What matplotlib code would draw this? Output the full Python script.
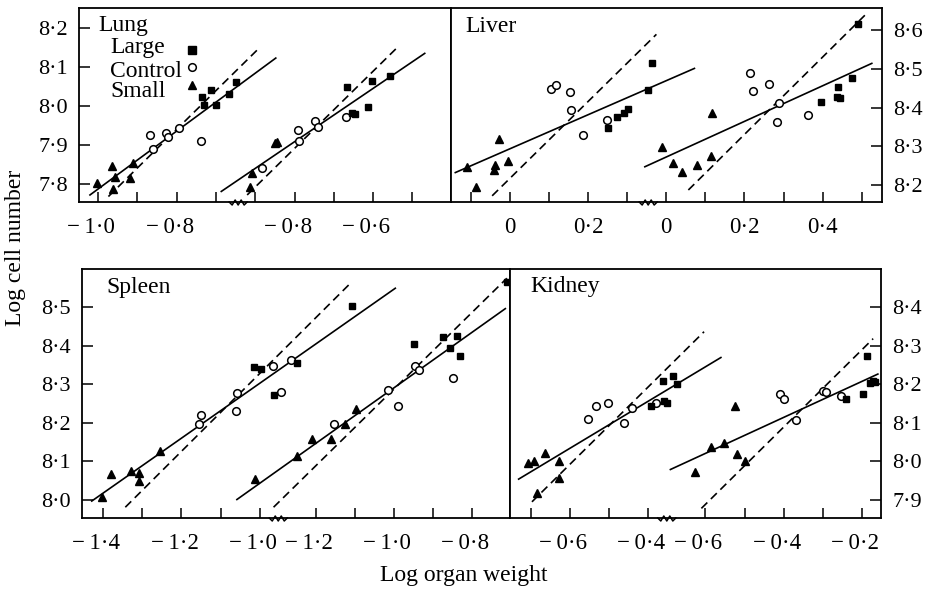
import matplotlib
matplotlib.use("Agg")
import matplotlib.pyplot as plt
from matplotlib.lines import Line2D
from matplotlib.transforms import ScaledTranslation

plt.rcParams['font.family'] = ['Liberation Serif', 'DejaVu Serif']

# ---- data (log organ weight, log cell number) ----
# each organ has two groups of animals, plotted on two offset x scales

# Lung, first group
lung1_small_x = [-1.004, -0.966, -0.957, -0.963, -0.911, -0.918]
lung1_small_y = [7.802, 7.845, 7.819, 7.787, 7.853, 7.816]
lung1_control_x = [-0.868, -0.860, -0.828, -0.821, -0.794, -0.738]
lung1_control_y = [7.925, 7.889, 7.930, 7.921, 7.943, 7.911]
lung1_large_x = [-0.735, -0.730, -0.713, -0.700, -0.666, -0.649]
lung1_large_y = [8.022, 8.001, 8.041, 8.001, 8.030, 8.062]
lung1_solid = [[-1.021, -0.547], [7.772, 8.122]]
lung1_dash = [[-0.974, -0.592], [7.768, 8.145]]
# Lung, second group
lung2_small_x = [-0.915, -0.909, -0.851, -0.846]
lung2_small_y = [7.792, 7.827, 7.904, 7.908]
lung2_control_x = [-0.883, -0.791, -0.789, -0.747, -0.741, -0.670]
lung2_control_y = [7.840, 7.938, 7.910, 7.960, 7.947, 7.972]
lung2_large_x = [-0.666, -0.653, -0.645, -0.613, -0.602, -0.556]
lung2_large_y = [8.047, 7.981, 7.978, 7.998, 8.064, 8.076]
lung2_solid = [[-0.987, -0.468], [7.781, 8.134]]
lung2_dash = [[-0.921, -0.533], [7.772, 8.154]]

# Liver
liver1_small_x = [-0.109, -0.085, -0.039, -0.041, -0.028, -0.005]
liver1_small_y = [8.246, 8.194, 8.252, 8.239, 8.318, 8.262]
liver1_control_x = [0.106, 0.117, 0.153, 0.156, 0.187, 0.247]
liver1_control_y = [8.449, 8.458, 8.441, 8.394, 8.329, 8.368]
liver1_large_x = [0.251, 0.274, 0.291, 0.301, 0.352, 0.364]
liver1_large_y = [8.348, 8.376, 8.385, 8.395, 8.445, 8.514]
liver1_solid = [[-0.139, 0.471], [8.232, 8.501]]
liver1_dash = [[-0.045, 0.374], [8.172, 8.589]]
liver2_small_x = [-0.009, 0.017, 0.042, 0.080, 0.114, 0.118]
liver2_small_y = [8.297, 8.258, 8.234, 8.252, 8.275, 8.385]
liver2_control_x = [0.213, 0.223, 0.263, 0.284, 0.287, 0.363]
liver2_control_y = [8.488, 8.443, 8.462, 8.363, 8.412, 8.381]
liver2_large_x = [0.396, 0.438, 0.435, 0.444, 0.475, 0.491]
liver2_large_y = [8.415, 8.452, 8.428, 8.424, 8.475, 8.615]
liver2_solid = [[-0.054, 0.525], [8.247, 8.514]]
liver2_dash = [[0.057, 0.508], [8.187, 8.639]]

# Spleen
spleen1_small_x = [-1.403, -1.380, -1.330, -1.309, -1.309, -1.256]
spleen1_small_y = [8.007, 8.067, 8.076, 8.071, 8.050, 8.128]
spleen1_control_x = [-1.154, -1.149, -1.058, -1.060, -0.966, -0.945, -0.920]
spleen1_control_y = [8.196, 8.220, 8.277, 8.232, 8.348, 8.281, 8.363]
spleen1_large_x = [-1.015, -0.997, -0.963, -0.904, -0.762]
spleen1_large_y = [8.346, 8.340, 8.273, 8.356, 8.504]
spleen1_solid = [[-1.430, -0.652], [7.997, 8.550]]
spleen1_dash = [[-1.344, -0.767], [7.981, 8.563]]
spleen2_small_x = [-1.356, -1.250, -1.210, -1.163, -1.125, -1.097]
spleen2_small_y = [8.054, 8.114, 8.157, 8.158, 8.196, 8.236]
spleen2_control_x = [-1.153, -1.015, -0.990, -0.947, -0.937, -0.850]
spleen2_control_y = [8.196, 8.285, 8.245, 8.348, 8.337, 8.316]
spleen2_large_x = [-0.950, -0.875, -0.856, -0.838, -0.830, -0.711]
spleen2_large_y = [8.406, 8.424, 8.394, 8.426, 8.374, 8.566]
spleen2_solid = [[-1.403, -0.715], [8.001, 8.497]]
spleen2_dash = [[-1.309, -0.711], [7.981, 8.576]]

# Kidney
kidney1_small_x = [-0.706, -0.693, -0.663, -0.628, -0.629, -0.683]
kidney1_small_y = [7.997, 8.002, 8.023, 8.002, 7.958, 7.919]
kidney1_control_x = [-0.555, -0.534, -0.502, -0.461, -0.442, -0.380]
kidney1_control_y = [8.109, 8.144, 8.151, 8.100, 8.140, 8.151]
kidney1_large_x = [-0.394, -0.363, -0.359, -0.353, -0.336, -0.326]
kidney1_large_y = [8.144, 8.210, 8.158, 8.152, 8.222, 8.200]
kidney1_solid = [[-0.731, -0.215], [7.954, 8.270]]
kidney1_dash = [[-0.697, -0.258], [7.895, 8.337]]
kidney2_small_x = [-0.627, -0.585, -0.553, -0.525, -0.518, -0.498]
kidney2_small_y = [7.973, 8.038, 8.047, 8.144, 8.019, 8.001]
kidney2_control_x = [-0.409, -0.400, -0.368, -0.300, -0.291, -0.253]
kidney2_control_y = [8.175, 8.162, 8.107, 8.184, 8.181, 8.170]
kidney2_large_x = [-0.240, -0.199, -0.187, -0.181, -0.172, -0.168]
kidney2_large_y = [8.162, 8.175, 8.274, 8.203, 8.209, 8.207]
kidney2_solid = [[-0.689, -0.160], [7.979, 8.227]]
kidney2_dash = [[-0.610, -0.172], [7.878, 8.319]]

# tick values for each x scale and each y axis
lung1_ticks = [-1.0, -0.9, -0.8, -0.7]
lung2_ticks = [-0.9, -0.8, -0.7, -0.6, -0.5]
liver1_ticks = [-0.1, 0.0, 0.1, 0.2, 0.3]
liver2_ticks = [0.0, 0.1, 0.2, 0.3, 0.4, 0.5]
spleen1_ticks = [-1.4, -1.3, -1.2, -1.1, -1.0]
spleen2_ticks = [-1.2, -1.1, -1.0, -0.9, -0.8]
kidney1_ticks = [-0.7, -0.6, -0.5, -0.4]
kidney2_ticks = [-0.6, -0.5, -0.4, -0.3, -0.2]
lung_yticks = [7.8, 7.9, 8.0, 8.1, 8.2]
liver_yticks = [8.2, 8.3, 8.4, 8.5, 8.6]
spleen_yticks = [8.0, 8.1, 8.2, 8.3, 8.4, 8.5]
kidney_yticks = [7.9, 8.0, 8.1, 8.2, 8.3, 8.4]

W, H = 926, 590
fig = plt.figure(figsize=(W / 100, H / 100), dpi=100)
# negative labels: digits sit on the tick, the minus hangs to the left
shift_left = ScaledTranslation(-0.07, 0, fig.dpi_scale_trans)


def fmt(v):
    # label every 0.2 only
    if round(v * 10) % 2 != 0:
        return ''
    if abs(v) < 1e-9:
        return '0'
    s = f"{abs(v):.1f}".replace('.', '\u00b7')
    if v < 0:
        return '\u2212\u2009' + s
    return s


def fmt_y(v):
    return f"{v:.1f}".replace('.', '\u00b7')


def make_panel(name, px, py, lim1, lim2, ylim, ticks1, ticks2, yticks, yside, brk):
    left, right = px
    top, bottom = py
    rect = [left / W, 1 - bottom / H, (right - left) / W, (bottom - top) / H]
    ax1 = fig.add_axes(rect, label=name + '1')
    ax2 = fig.add_axes(rect, label=name + '2')
    ax2.patch.set_visible(False)
    for s in ax2.spines.values():
        s.set_visible(False)
    ax2.yaxis.set_visible(False)
    ax1.set_xlim(lim1)
    ax2.set_xlim(lim2)
    ax1.set_ylim(ylim)
    ax2.set_ylim(ylim)
    for ax, t in ((ax1, ticks1), (ax2, ticks2)):
        ax.set_xticks(t)
        ax.set_xticklabels([fmt(v) for v in t])
        ax.tick_params(axis='x', direction='in', length=7, width=1.1, pad=11, labelsize=16.5)
        for v, tk in zip(t, ax.xaxis.get_major_ticks()):
            if v < 0:
                tk.label1.set_transform(tk.label1.get_transform() + shift_left)
    ax1.set_yticks(yticks)
    ax1.set_yticklabels([fmt_y(v) for v in yticks])
    ax1.tick_params(axis='y', direction='in', length=8, width=1.1, pad=8, labelsize=16)
    if yside == 'right':
        ax1.tick_params(axis='y', left=False, labelleft=False, right=True, labelright=True)
    for s in ax1.spines.values():
        s.set_linewidth(1.3)
    # broken-axis mark
    bx, by = ax1.transData.transform((brk, ylim[0]))
    ax1.add_artist(Line2D([(bx - 9) / W, (bx + 9) / W], [by / H, by / H], color='white',
                          lw=3, transform=fig.transFigure, clip_on=False))
    zx = [-9, -6, -3, 0, 3, 6, 9]
    zy = [0, -3, 2, -3, 2, -3, 0]
    ax1.add_artist(Line2D([(bx + d) / W for d in zx], [(by + d) / H for d in zy], color='black',
                          lw=1.1, transform=fig.transFigure, clip_on=False))
    return ax1, ax2


def draw_group(ax, sx, sy, cx, cy, lx, ly, solid, dash):
    ax.plot(solid[0], solid[1], color='black', lw=1.2, clip_on=False)
    ax.plot(dash[0], dash[1], color='black', lw=1.2, dashes=(5, 3), clip_on=False)
    ax.plot(sx, sy, '^', color='black', ms=5.5, clip_on=False)
    ax.plot(cx, cy, 'o', mfc='white', mec='black', mew=1.1, ms=5.5, clip_on=False)
    ax.plot(lx, ly, 's', color='black', ms=5, clip_on=False)


a1, a2 = make_panel('lung', (79, 451), (8, 202), (-1.049, -0.100), (-1.350, -0.401), (7.754, 8.250),
                    lung1_ticks, lung2_ticks, lung_yticks, 'left', -0.643)
draw_group(a1, lung1_small_x, lung1_small_y, lung1_control_x, lung1_control_y,
           lung1_large_x, lung1_large_y, lung1_solid, lung1_dash)
draw_group(a2, lung2_small_x, lung2_small_y, lung2_control_x, lung2_control_y,
           lung2_large_x, lung2_large_y, lung2_solid, lung2_dash)
a1.text(0.051, 0.912, 'Lung', transform=a1.transAxes, fontsize=17, va='center')
for lab, yt, ym, mk in (('Large', 0.794, 0.784, 's'), ('Control', 0.675, 0.696, 'o'),
                        ('Small', 0.572, 0.603, '^')):
    a1.text(0.083, yt, lab, transform=a1.transAxes, fontsize=17, va='center')
    if mk == 'o':
        a1.plot([0.305], [ym], mk, mfc='white', mec='black', mew=1.1, ms=5.5, transform=a1.transAxes)
    else:
        a1.plot([0.305], [ym], mk, color='black', ms=5.5, transform=a1.transAxes)

b1, b2 = make_panel('liver', (451, 882), (8, 202), (-0.150, 0.9495), (-0.5485, 0.551), (8.156, 8.657),
                    liver1_ticks, liver2_ticks, liver_yticks, 'right', 0.353)
draw_group(b1, liver1_small_x, liver1_small_y, liver1_control_x, liver1_control_y,
           liver1_large_x, liver1_large_y, liver1_solid, liver1_dash)
draw_group(b2, liver2_small_x, liver2_small_y, liver2_control_x, liver2_control_y,
           liver2_large_x, liver2_large_y, liver2_solid, liver2_dash)
b1.text(0.0325, 0.905, 'Liver', transform=b1.transAxes, fontsize=17, va='center')

c1, c2 = make_panel('spleen', (82, 510), (269, 518), (-1.455, -0.358), (-1.800, -0.703), (7.953, 8.600),
                    spleen1_ticks, spleen2_ticks, spleen_yticks, 'left', -0.952)
draw_group(c1, spleen1_small_x, spleen1_small_y, spleen1_control_x, spleen1_control_y,
           spleen1_large_x, spleen1_large_y, spleen1_solid, spleen1_dash)
draw_group(c2, spleen2_small_x, spleen2_small_y, spleen2_control_x, spleen2_control_y,
           spleen2_large_x, spleen2_large_y, spleen2_solid, spleen2_dash)
c1.text(0.058, 0.925, 'Spleen', transform=c1.transAxes, fontsize=17, va='center')

d1, d2 = make_panel('kidney', (510, 881), (269, 518), (-0.753, 0.1934), (-1.098, -0.152), (7.853, 8.500),
                    kidney1_ticks, kidney2_ticks, kidney_yticks, 'right', -0.353)
draw_group(d1, kidney1_small_x, kidney1_small_y, kidney1_control_x, kidney1_control_y,
           kidney1_large_x, kidney1_large_y, kidney1_solid, kidney1_dash)
draw_group(d2, kidney2_small_x, kidney2_small_y, kidney2_control_x, kidney2_control_y,
           kidney2_large_x, kidney2_large_y, kidney2_solid, kidney2_dash)
d1.text(0.054, 0.93, 'Kidney', transform=d1.transAxes, fontsize=17, va='center')

fig.text(16 / W, 1 - 248 / H, 'Log cell number', rotation=90, fontsize=17, ha='center', va='center')
fig.text(464 / W, 1 - 575 / H, 'Log organ weight', fontsize=17, ha='center', va='center')

fig.savefig('out.png', dpi=100, facecolor='white')
